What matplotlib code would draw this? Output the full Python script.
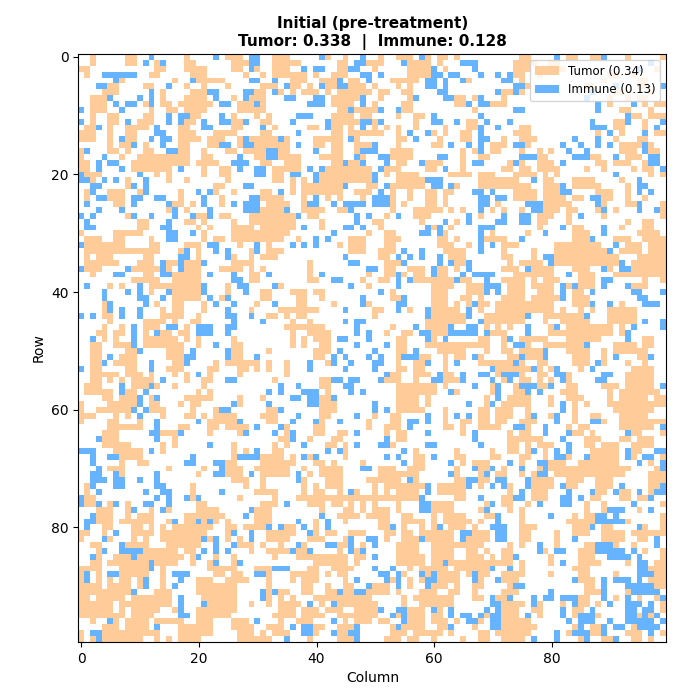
import numpy as np
import matplotlib
matplotlib.use("Agg")
import matplotlib.pyplot as plt
from matplotlib.colors import ListedColormap
from matplotlib.patches import Patch

# -------------------------------------------------------------------------
# Gitter 100x100, pro Zeile: Spalten mit Tumor / Immun
# je Zeile vier Bloecke a 25 Spalten (getrennt durch "|"), Spalten lokal
# -------------------------------------------------------------------------
TUMOR_ROWS = [
    "2 8-9 18 | 0-2 8-10 17 20 | 1 4-6 9 11-12 14 | 0-1 8-9 12-13 18 24",
    "2 8-9 13 18-19 | 1-3 8-12 19-20 24 | 0-1 6-9 11 24 | 0-2 5-6",
    "0-1 13-14 18-21 | 1-2 5 8-10 19-20 | 0 6-9 12 24 | 0-1 6-7 23",
    "1 12-13 19-21 | 3 6 8-13 15 18-20 | 6-9 24 | 0 3 15-16 19",
    "7 16 20-24 | 11-13 16-18 21-22 | 3-7 16 | 0 14 20-21",
    "5-6 11-12 18 21 | 0 6-8 11-12 14 17-18 21-23 | 0 4 6 | 1 11-12 20-21",
    "4-6 14 19-21 | 5-6 9 11 13-15 17 19-24 | 1-2 5-6 22-23 | 0 16-17 22",
    "2-4 14 18-21 | 1 4-6 18-22 | 1 6 14-15 17 22 | 15 18 20-21",
    "2-4 11 14-15 17-22 | 2-4 6 18-21 | 0 5-6 14-15 20-22 | 15 21 23-24",
    "2-4 12 15-16 18-21 | 2-6 19-20 22-24 | 0 5-6 17 | 17-18 22",
    "2 5-6 11-12 19-20 | 1 5 7 18-21 23-24 | 4 7-8 | 19-20 22-24",
    "2 5-6 10-12 18-19 | 1-2 6-7 18-22 | 0 7 16-17 | 16-17 21",
    "1-2 5 8-11 17-18 | 1-2 8 14-15 18-19 21 | 0 2 4 7 12 16-17 | 0-1 16-17 21",
    "0-2 5 8-9 17-19 23-24 | 0-1 6-7 18-19 21-24 | 0-1 4 10 12 15-16 24 | 0-1 13 17 23-24",
    "0-2 5 8-9 17-20 22-24 | 2 4-8 10 15-19 22 | 4-5 11 15-16 22 | 0-2 16 20-21",
    "5 7-8 11 17-18 22-23 | 2 5-10 15-16 18-19 22-24 | 4 10-11 20-22 | 1 17-20 22",
    "0 5-6 8 11-12 17-18 21 | 0-1 3-6 9-10 18-19 22 | 3-6 15 17 20-21 | 0 3 5 17-19 22-23",
    "0 7 10-18 21-22 | 5-6 9-12 16-19 23 | 3-6 15 18-19 | 3-4 12-13 18-20",
    "0-1 9-18 20-23 | 6-7 10-12 18-19 21-22 | 4-5 9-11 15 23 | 0 3-5 13-14 16-18 21",
    "0-1 9-15 21 24 | 0 8-12 17-24 | 2-4 9-10 15 22-23 | 0-1 3-6 11 14 19 21-22",
    "1-3 13 15 21 24 | 0 8-9 16-24 | 2 4-7 13-16 18-20 24 | 0-2 4 6 22 24",
    "2 8 15 18 | 0 8-9 11 13 16-24 | 4-8 18-24 | 4-5 9-12 17",
    "8 23-24 | 11 13-19 24 | 0 3-8 14 18-24 | 0-1 4-6 9-13 18",
    "1 5-7 10 17 23 | 1 6-7 11 13-19 22-24 | 3 6 9-10 12-13 24 | 0-2 4-6 13-15 18",
    "1 5-7 17 24 | 6-9 13 17 19 23 | 3 6 9-10 12 24 | 0-2 4-7 9-10 14-15 18 21",
    "6-7 16-17 19 24 | 7-10 13 | 3 5 9-10 12 21 | 4-8 14 18-19 24",
    "15 18 | 6-9 13-16 19-20 | 3 7-11 13 15 20 22 | 0 4-6 8-9 13 16 24",
    "8 20-21 24 | 0 4-11 14-15 | 2 7-9 18 | 3-5 8 14 24",
    "10-11 18-19 21 | 1 4-11 16 | 0-1 8 14 | 3-4 8 18 21-22",
    "10-11 20 22 | 1-4 6-11 16 | 1 10 13 | 3 9-10 17 21-22",
    "0 6-10 21 | 1-10 24 | 2-3 12 20 | 1 9-11 20-23",
    "1-3 6-7 12 21 23-24 | 1-9 12 21-23 | 2-4 11-12 14 19-22 | 9-11 16-18 21-24",
    "1-7 12-13 18-20 | 2 7 19 21-23 | 2-3 11-13 16 22-24 | 6-13 18-20 22-24",
    "1-13 17 20 | 4 7-9 21-23 | 1-3 12-15 22 | 2 6-14 17-20 22-24",
    "1 3-5 11-12 20 | 1 4 6-8 | 1-2 13-15 22-23 | 2 6-16 20-24",
    "1-6 10-12 15-16 18-20 | 1-4 14 | 2-4 14-15 23 | 0-3 6-16 19-24",
    "1-3 9-13 15 18-20 24 | 0-2 4 6 14 | 2-3 6-8 11-12 14 22-24 | 2-5 9-11 15 19-24",
    "2 11-12 16-20 | 4-5 14 24 | 2-3 5 7-8 11-12 24 | 0-5 10-12 16-24",
    "9-13 16-20 | 4-5 14-15 23 | 1-2 7-13 15-16 22-24 | 0 2 4-6 10-12 21 24",
    "5 7 12-20 | 0 9 24 | 10-13 16-18 23-24 | 0 2-5 8 10-12 19-21",
    "12 16-20 | 0 6-7 11-13 15-16 | 3 10-12 16-18 23-24 | 0 3-5 9-10",
    "16-20 24 | 6-7 12-13 16 | 3-4 10-12 15-16 18 22-24 | 0 2-6 9-11",
    "4 13 16-17 21 | 5 12-13 18 24 | 10-12 14 16 18-19 21-24 | 0-5 9-11 17",
    "4 14 16-17 21 | 4 9-15 | 0-1 6 10-14 18 21-24 | 0-5 7 10 12 15-19",
    "4-5 14-17 20 | 7-8 10 12-13 | 0 10-15 19-24 | 0 4-10 15-19",
    "5 11-14 16 19-20 | 11 14 | 9-15 19-24 | 0 4 7-11 15-19",
    "4 7 11-13 18 | 10-16 | 3 9-12 19 21 23 | 5 8-15 17",
    "3-4 6-7 11 14-15 17-18 | 11 14-17 | 2 5-6 10-12 20-22 | 5-15 17",
    "4 6 11-16 18 20 | 1 11 13 15-17 | 4-5 10 18-19 22 | 0-4 8-13 21-22",
    "2-3 6-8 11-17 20 | 1-2 11 13 16-17 | 4-5 9-19 22 | 1 4-10 16-19 21-22",
    "2-3 8-9 15-17 | 1-2 7 15-17 | 4-5 11-15 19 22-23 | 0-3 8-11 14 16-21",
    "2-3 7-9 15-17 | 1-2 15-16 | 4 8-9 12 14-15 18 23-24 | 1-3 9-11 14 20-21",
    "2-3 6-9 16-17 23 | 0-5 7 10 17 | 4 7-8 12 18-23 | 0 3-4 9-11 14 18 21",
    "2-3 8-9 15-17 22-23 | 2-3 5 7 10 | 4-5 7-8 12 21-24 | 0-1 3 5 10 19-22",
    "2-6 8-10 12 16 18 22 | 2 10 | 3-4 7-9 12-13 21 | 0 3-4 8 18-22",
    "2-3 5 7 9-12 18 21-22 | 8 16-17 | 2-4 7 12-14 22 | 0-1 3 5 8 18-22",
    "1-3 9-11 13 16 21 | 16-17 | 4-10 12 20 24 | 3-4 8-9 14-16 18-22",
    "1-5 8-9 20 22 | 17 | 4-10 14 20 24 | 0 7-9 15 17-23",
    "4-5 7-9 12 18-22 | 2 6 16-17 | 4-7 9 19 23-24 | 0-1 5 8-10 15 17-21 23-24",
    "0 5-9 12-13 17 19-20 | 2 16-18 | 4-7 9 19 22-24 | 0-1 5 9 11 15-24",
    "0 3-8 12-14 19 23 | 7-8 16-18 | 4-8 12 18-19 21-23 | 1 9 16-22",
    "0-2 6 8 14 18-19 21 23-24 | 0-1 6-8 16-17 | 0 3-4 12 18-19 21-23 | 1 5 9 12-13 17-21",
    "0 5-6 10 22-24 | 0-1 7-8 16 24 | 3-4 12 15-16 18-19 21-22 | 0-2 9 14 17-24",
    "5-10 17-18 22-23 | 0-3 10 15-16 24 | 2-4 12-13 15 18-21 | 1 8 10-11 17-22",
    "4-6 14-16 22 | 2 10 15-16 19-20 | 2 4-5 15 23 | 0-1 9-10 12 19-20 24",
    "4-6 16 | 9-10 14 18-19 | 4-5 23-24 | 0-3 11-13 17-18 20-22",
    "4-8 14 16 | 1 8 10 17-18 20 | 3 23-24 | 1 3-5 11-12 14-16 19-22",
    "6-10 14 | 1 3 8-9 20 | 7 14 20 23-24 | 1 4 12-16 19-20",
    "7-10 | 1 6-9 11 14 20 | 7-8 14-15 20-21 | 0-1 4 8 12-16 19 24",
    "7 10-11 | 0-1 6-11 15-16 18 23 | 7-8 15 17-19 | 0 5-7 10-16 22",
    "5-7 15 21 | 0-2 5-10 13 16-19 | 1-3 6-8 14 18-19 22 | 3 5-18 23",
    "7 20 | 0-2 6-10 14 16-19 | 1-7 14 18 21-22 | 0 2 6-17 22-24",
    " | 1-3 6 13 17-19 24 | 0-4 7 14-15 18-19 | 2-5 8-10 13-15 22-24",
    "1 19 | 3 6 13 15 17-19 | 0 2-8 11-15 18 23 | 2-5 8-9 13-15 22-23",
    "1 19 | 5-8 13 15-16 19 22 | 0 2 4-7 11-15 23 | 2-4 13-14 17-18 22",
    "1-2 19 | 2 8 12-24 | 0-7 14-15 22-23 | 2-4 12-13 17-18 20-21",
    "1-2 5 8 20-21 | 6-8 14-16 18-19 21 23 | 0 4 10-13 19 22-23 | 1 11 14 24",
    "3-5 8 12 15 20-23 | 5-7 16 20-21 23 | 0-2 4 10-13 18 23 | 0 11 14 20",
    "3-5 8 10-12 18-24 | 5-7 19-22 24 | 0-2 5-6 10 12-15 19-20 | 0 9 11-12 24",
    "3-5 7-12 15 18-19 21 23 | 0 5-7 15 20 | 1-2 5-8 10 12-16 18 | 0 8-12 18 24",
    "4-5 9-10 12 14 16-22 | 0-1 3-6 10-11 15 | 1-2 5 8 10 13-15 17 | 0-2 9-11 14-15 21 24",
    "0-1 4 9-12 14-21 | 0 7-11 15 17-18 21-23 | 2-3 5-6 8-13 17-19 | 0-1 6 9-11 14-17 19-24",
    "0 5 9 11 14-20 22 | 0 2 7-10 14-16 20 | 2 5-7 9-13 16-19 | 0-1 6 14-17 20-21",
    "2-3 8-11 15-20 | 1-4 6 9 13 19-20 23 | 4-7 10-18 23 | 0 6 11-12 16 19",
    "3 11-16 18-19 | 4 7-10 12-13 19 22 | 4-7 10-13 16-17 19 22-23 | 4 10-12 21 24",
    "3 6-8 10-17 19 23 | 1 8 12-20 22-23 | 4-8 10-13 16-18 20 22-23 | 5 10-12 24",
    "2-3 5-11 13-16 19 22 | 1 15-20 22 | 4-8 10-11 13-23 | 0 5 10-13 18 23-24",
    "0-3 7-11 14 22-24 | 0-1 5-7 14-15 18-21 | 6 8-12 14-19 | 0 9-11 22-24",
    "0 3 7-11 14 23-24 | 1-2 7 11-15 17 19-20 | 5 9 11-14 16 18-19 22-24 | 0 5 10-11 16 23-24",
    "0 3 5 7-8 10 14 20-22 | 0-3 7 11 13-15 20 | 3 6 8 11-14 18 22-24 | 10-12 22-24",
    "0-3 5-8 10 14 20-24 | 0-1 7 13-14 17 20-21 | 0-2 6 10-12 14 17-18 23 | 11-12 23-24",
    "0-8 13-15 20-24 | 0-1 7 9-10 13-14 17-18 20-21 24 | 0-2 4 8-10 13-14 17 22-24 | 11-13 18",
    "0-1 3-7 9-15 21-24 | 0-1 7 9 11 15-24 | 5 7-13 17-18 21-22 | 10-11 16 20 23",
    "0-5 7-15 22-24 | 0-1 4 7 9-12 16 19-24 | 0 5 8-13 22-24 | 0 3 7 10-11 13 24",
    "0-5 7 9-13 16 20-24 | 0-1 9-11 13-15 17-19 22-24 | 0 6-8 11 22-24 | 2-3 9-10 24",
    "0-7 9-12 20-24 | 0 8-11 13-16 19-24 | 0 4 6-8 10-11 19 22-24 | 3 9 13 20 22",
    "2 6 8-11 13-17 20-22 | 1-3 9 12-14 20 22-24 | 1-2 6-8 10-12 14 18 22-24 | 0-1",
    "4-6 8-11 17-22 | 1-4 7-9 15-16 19-21 | 3 5-8 11-12 17 22-24 | 0-2 9 12-13 19",
    "0 4-13 17-22 | 2-4 6 8-10 15 19-20 | 3-5 7-11 13 18-19 21-24 | 0-1 8 12-13 18-20 24",
    "0 2 4-10 13 15 17-20 | 2-7 14 19-21 | 2-4 6-7 10 15 18-19 22-24 | 0 10 14-15 19-20 22",
]

IMMUNE_ROWS = [
    "12 23 | 4-5 16 23 | 8 | 6 14",
    "11 14 | 4-5 22-23 | 5 15-17 | 22",
    " | 4 13 15-16 21-22 | 10 17 | 20",
    "4-9 | 23-24 | 1 10-11 13-14 18 21 23 | ",
    "6 19 | 4-5 8 19 24 | 9-10 12 15 22-23 | ",
    "3-4 15 | 10 16 19-20 | 9-10 12 24 | 0 16 24",
    "12 22-23 | 3-4 8 | 11-12 21 24 | 12",
    "5 10 12 23 | 3 10-11 15-16 23 | 7 12-13 18 | 11",
    "6 8-9 12 24 | 0 5 14-16 23 | 16 18-19 | 13 19",
    "0 7 | 21 | 1 4 24 | 0 13",
    "15 17-18 24 | 12-14 | 10 18 | 18",
    "0 8 15 17 21 24 | 0 3 11 17 23-24 | 1 10-11 14 19 23 | 12 18 24",
    "3 13 21-22 | 6 17 23 | 18 21 | 12-14 23",
    "13-14 | 12 | 6 9 18 | 15 21",
    "7 12 14-15 | 3 9 21 | 7 18-19 | 9 13",
    "9 14 24 | 0 3-4 12 | 0 13 16 18 24 | 0 7 10 13 15 21",
    "1 15-16 | 7-8 15 23-24 | 0 18 | 8 11 21",
    "4 | 2 7-8 22 | 1-2 11-12 | 0-2 9-11 16 22-23",
    "3 5-6 | 1-3 20 23 | 2 8 17-18 24 | 7 22-23",
    "3 7 17 | 2 5-6 14 16 | 1 12 | 24",
    "0 10 | 5-6 11-12 15 | 0 | 16",
    "0-1 4 6 11 | 15 | 0 9-11 | 2 20",
    "2-3 9 11 | 3-4 20 | 2 10-11 13 | 7 20-21",
    "2 11 20 22 | 9 | 1 17-18 20 | 7-8 20 22",
    "3-4 9-10 13-14 21 | 4-5 15 | 0-2 18-19 21-22 | 12-13",
    "1 9 15 21 | 1 3-5 14-15 18 20-23 | 0-2 18-19 | 1-3 13 20",
    "3 7 16 22 | 3-5 10 21 | 18 | 2-3 14 20 23",
    "0 2 9 12 16 19 22 | 12 22 24 | 4 16 22 | 0-1 10",
    "1 15 | 22 | 12 16 21-22 | 0-1",
    "1-2 14-15 | 13 20-21 23 | 9 11 18-20 | 7 14",
    "15-16 19 | 18 | 8-9 11 18 | 4 14",
    "15-16 | 15 17 | 18 | 0 12",
    "0 22-23 | 5 11 13 15 | 18 20 | 16",
    "18 23 | 0 5 | 5 8 18 | 15",
    "17-18 | 0 20 | 4 6 8 11 | 4-5",
    "14 17 21 | 21-22 | 5 11 13 16 | 5 17",
    "0 8 14 17 | 24 | 0 10 16 | 1 14 17-18",
    "6-7 14-15 22 | 1 7 16 | 4 10 15 17-20 | 8",
    " | 1-2 18-19 | 4 6 14 19 | 14-15",
    "1 10 21 | 2-3 8 21 | 4 19-21 | 7 9 14 18",
    "4 8 10 15 21 | 3 | 1 19 21 | 7 12 19-20 24",
    "4 10-11 14 22 | 0 23 | 5 | 7 20-21",
    "5 11 23 | 1 8 23 | 4-5 17 | 12 15 21-23",
    "5 7 10 | 0 20 | 4 9 16 | ",
    "0 2 7 10 | 0-1 4 | 9 16 | 1 11",
    " | 1 6 20 22-23 | 18 | 21 24",
    "9 15-16 20-22 | 0-1 22 | 7 13 16-17 | 1 6 19 24",
    "9 13 20-22 | 0 22 24 | 8-9 13-17 19 | 1 18",
    "2 9 | 19-20 24 | 9 12 23 | 18",
    "9 23 | 22 | 2 24 | 0 11",
    "10 19 | 0 19 | 0 7 | 4",
    "5 18-19 | 0 5 18 20 24 | 1 5-7 17 | 0 4 16 22",
    "4 12 18 | 14 18 21 | 0-1 9 14 24 | 13",
    "0 12 | 14 20 | 0 20 | 2 6 12",
    "20 | | 2 11 15 18-19 22-24 | 6-7 14-15",
    "14 | 0-1 18-19 21-22 | 1 10-11 15 20 23 | 7 13-14",
    "7 12 | 9 12 20-21 | 17 21 | 0-2 5 24",
    "7 11 | 7 9 13-15 21 23 | 13 21 | 1 3",
    "10 13 | 11-12 14-15 18 | 21 | ",
    "10 | 1 7 14-15 | 0 16 20 | 7",
    "9 11 24 | 0 9 | 0 2 | 7",
    "10 | 12 22 | 9 14 16 | 2 6",
    "13 20 | 2 11 15 19 | 6-7 9 | 6 12-13",
    "13 | 5 9 | 6 24 | 0 4 24",
    "12-13 17 | 3 8 11 22 | 9 17 | 4 8 18",
    "3 13 | 11 | 2 17 | 7",
    "22 | 13 22 | 1-2 9-10 18 | 8",
    "0-2 12 | 5 17 19 | 5 | 2 6 8 18 23-24",
    "2 5-6 19 | 2-5 13 15 | 2 4 10 | 6-7 11 18 21-22",
    "2 18-19 23-24 | | 5 13 23 | 3-4 20 24",
    "3 24 | 23-24 | 17 20 | 0 4 24",
    "2-3 6 13 23-24 | 4 12 | 13 19 | 3-4",
    "2-4 6-7 10 13 | 12 | 6 16-17 21-22 | 1",
    "2 6-7 13-14 | | 9 16 20 22 | 1 7 17 24",
    "3 11 14-15 24 | 21 | 9 | 0 8 12 16 20 23-24",
    "0 13 15 18 20 | | 8 18 24 | 0 7-8 10 22",
    "0 3 6 11-12 15 | 10 | 8-9 20 | 3 7-8 19",
    "9 14 | 4 | 8-9 19 | 15-17 22",
    "2 | 3 16 | 21 | 5 13-14 16",
    "1-2 16 20 22 | 12 17 | 21 | 13-17",
    "1 | 7 9 13 17 | 3 11 20-22 | 12 20",
    "6 | 1 4 14 | 15-16 21-22 | ",
    "4 21 23 | 4 21 24 | 0 8 15 21-22 | 9 23",
    "7 23 | 1 12 17-18 21 | 0 | 3 13-15 23",
    "4 7-10 21 23 | 0 11 14 21 23 | | 3 6-7 13-17 19",
    "2 9 20 | | 0 24 | 15-18 20",
    "12 23 | 2 | 12 | 7 20-21",
    "12 | 8-10 | 0 3 20 23 | 20-21",
    "1 5-6 16-18 | 5-6 | 1-2 4 8 10 17 | 20-22",
    "1 11 17 | 22 | 2 4 9-10 17 21 | 9 14 16-18 20",
    "11 16 | 24 | 4 9 24 | 0 14 18-22",
    "9 | 6 8 19 22-23 | | 5 14 19-23",
    "17 | 6 | 20 23 | 2 4-5 7-9 14 18 24",
    "17 21 | 14 18 | 20-21 | 2 9 15 18-20 22",
    "17 | | 1 4-5 10 13 19 21 | 7 12 18-19 21-22",
    "17-18 | | 3 5 13 15-16 18 20-21 | 1 7 10-12 18-19 21 23",
    "5 | 5 18 | 5 16-17 20-21 | 8 10-12 15 18-22 24",
    "13 | 11 13-14 22 | 4 13 20-21 | 10 14 16-17 20-23",
    "2-3 | 13-14 18 21-22 | | 6 9-11 14 22",
    "3 | 10 22 | | 2 6 11 16",
]

TITEL = "Initial (pre-treatment)\nTumor: 0.338  |  Immune: 0.128"
LEGENDE = ["Tumor (0.34)", "Immune (0.13)"]
FARBEN = ["#FFFFFF", "#FFCC99", "#66B3FF"]


def spalten(zeile):
    """'2 8-9 | 0-3 | ...' -> Liste globaler Spaltenindizes"""
    cols = []
    for k, teil in enumerate(zeile.split("|")):
        for tok in teil.split():
            if "-" in tok:
                a, b = tok.split("-")
                cols.extend(range(25 * k + int(a), 25 * k + int(b) + 1))
            else:
                cols.append(25 * k + int(tok))
    return cols


grid = np.zeros((100, 100), dtype=int)
for r, zeile in enumerate(TUMOR_ROWS):
    grid[r, spalten(zeile)] = 1
for r, zeile in enumerate(IMMUNE_ROWS):
    grid[r, spalten(zeile)] = 2

fig, ax = plt.subplots(figsize=(7, 7), dpi=100)
fig.subplots_adjust(left=0.111, right=0.953, top=0.923, bottom=0.083)
ax.imshow(grid, cmap=ListedColormap(FARBEN), vmin=0, vmax=2,
          interpolation="nearest")
ax.set_title(TITEL, fontsize=11, fontweight="bold")
ax.set_xlabel("Column")
ax.set_ylabel("Row")
ax.legend(handles=[Patch(facecolor=FARBEN[1], label=LEGENDE[0]),
                   Patch(facecolor=FARBEN[2], label=LEGENDE[1])],
          loc="upper right", fontsize=8.5)
fig.savefig("out.png", dpi=100)
print("Tumor:", (grid == 1).mean(), "Immune:", (grid == 2).mean())
